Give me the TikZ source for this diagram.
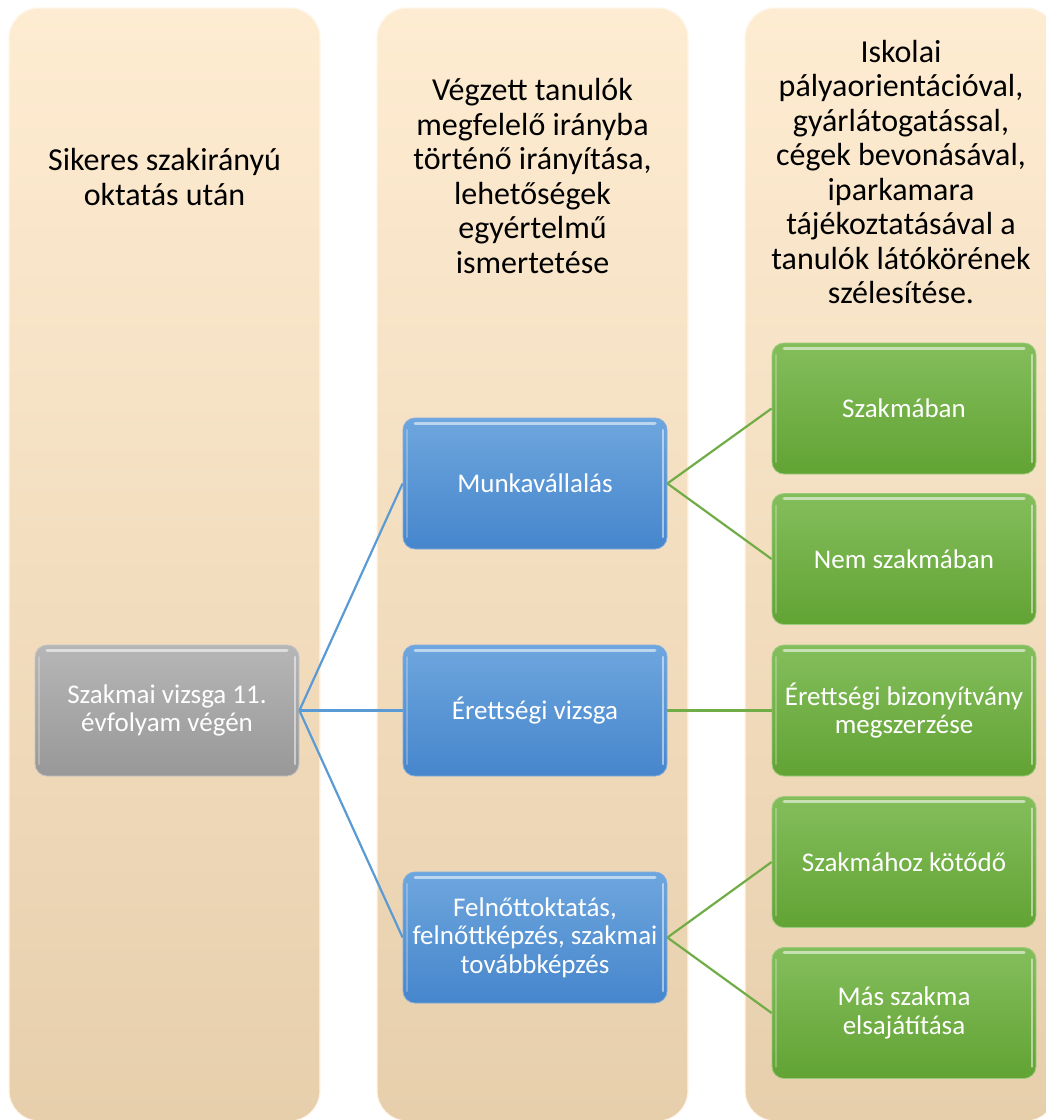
\documentclass[tikz,border=0pt]{standalone}
\usepackage{fontspec}
\setmainfont{Carlito}
\definecolor{colTop}{RGB}{254,236,210}
\definecolor{colBot}{RGB}{231,207,172}
\definecolor{blueTop}{RGB}{110,166,222}
\definecolor{blueBot}{RGB}{70,134,204}
\definecolor{blueEdge}{RGB}{96,152,214}
\definecolor{greyTop}{RGB}{182,182,182}
\definecolor{greyBot}{RGB}{152,152,152}
\definecolor{greenTop}{RGB}{132,190,92}
\definecolor{greenBot}{RGB}{98,163,52}
\definecolor{blueLine}{RGB}{91,155,213}
\definecolor{greenLine}{RGB}{112,173,71}
\tikzset{
  lane/.style={rounded corners=30pt, top color=colTop, bottom color=colBot,
    draw=white!55!colTop, line width=1.2pt},
  hdr/.style={align=center, text=black, inner sep=0pt,
    font=\fontsize{32}{34.5}\selectfont},
  box/.style={rounded corners=12pt, minimum width=264pt, minimum height=131pt,
    align=center, text=white, inner sep=0pt, line width=0.8pt,
    font=\fontsize{27}{28.5}\selectfont,
    path picture={
      \draw[white, opacity=.55, line width=3pt, line cap=round]
        ([xshift=12pt,yshift=-5pt]path picture bounding box.north west) --
        ([xshift=-12pt,yshift=-5pt]path picture bounding box.north east);
      \draw[white, opacity=.5, line width=2.5pt, line cap=round]
        ([xshift=-4pt,yshift=-12pt]path picture bounding box.north east) --
        ([xshift=-4pt,yshift=12pt]path picture bounding box.south east);
      \draw[white, opacity=.25, line width=2pt, line cap=round]
        ([xshift=4pt,yshift=-12pt]path picture bounding box.north west) --
        ([xshift=4pt,yshift=12pt]path picture bounding box.south west);
    }},
  greybox/.style={box, top color=greyTop, bottom color=greyBot, draw=greyTop!80!white},
  bluebox/.style={box, top color=blueTop, bottom color=blueBot, draw=blueEdge!80!white},
  greenbox/.style={box, top color=greenTop, bottom color=greenBot, draw=greenTop!80!white},
  blink/.style={draw=blueLine, line width=2.2pt},
  glink/.style={draw=greenLine, line width=2.2pt}
}
\begin{document}
\begin{tikzpicture}[x=1pt, y=-1pt]
  \clip (0,0) rectangle (1046,1120);
  \fill[white] (0,0) rectangle (1046,1120);

  % three lanes
  \path[lane] (9,8) rectangle (320,1121);
  \path[lane] (377,8) rectangle (688,1121);
  \path[lane] (745,8) rectangle (1056,1121);

  % lane headings
  \node[hdr] (h1) at (164.5,177) {Sikeres szakirányú\\oktatás után};
  \node[hdr] (h2) at (532.5,176) {Végzett tanulók\\megfelelő irányba\\történő irányítása,\\lehetőségek\\egyértelmű\\ismertetése};
  \node[hdr] (h3) at (901,172) {Iskolai\\pályaorientációval,\\gyárlátogatással,\\cégek bevonásával,\\iparkamara\\tájékoztatásával a\\tanulók látókörének\\szélesítése.};

  % boxes
  \node[greybox] (exam) at (167,710.5) {Szakmai vizsga 11.\\évfolyam végén};

  \node[bluebox] (work) at (535,483.5) {Munkavállalás};
  \node[bluebox] (matura) at (535,710.5) {Érettségi vizsga};
  \node[bluebox] (adult) at (535,937.5) {Felnőttoktatás,\\felnőttképzés, szakmai\\továbbképzés};

  \node[greenbox] (inprof) at (904,408.5) {Szakmában};
  \node[greenbox] (outprof) at (904,559) {Nem szakmában};
  \node[greenbox] (cert) at (904,710.5) {Érettségi bizonyítvány\\megszerzése};
  \node[greenbox] (related) at (904,862) {Szakmához kötődő};
  \node[greenbox] (other) at (904,1013) {Más szakma\\elsajátítása};

  % connectors
  \draw[blink] (exam.east) -- (work.west);
  \draw[blink] (exam.east) -- (matura.west);
  \draw[blink] (exam.east) -- (adult.west);

  \draw[glink] (work.east) -- (inprof.west);
  \draw[glink] (work.east) -- (outprof.west);
  \draw[glink] (matura.east) -- (cert.west);
  \draw[glink] (adult.east) -- (related.west);
  \draw[glink] (adult.east) -- (other.west);
\end{tikzpicture}
\end{document}
